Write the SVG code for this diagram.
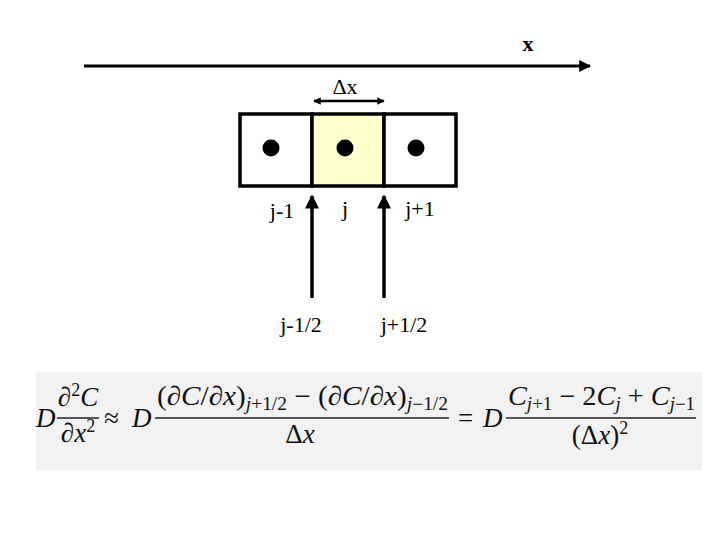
<svg xmlns="http://www.w3.org/2000/svg" width="720" height="540" viewBox="0 0 720 540">
<defs>
<marker id="ah" viewBox="0 0 10 10" refX="9" refY="5" markerWidth="4" markerHeight="4" orient="auto-start-reverse"><path d="M0,0 L10,5 L0,10 z" fill="#000"/></marker>
<marker id="ah2" viewBox="0 0 10 10" refX="9" refY="5" markerWidth="3" markerHeight="3" orient="auto-start-reverse"><path d="M0,0 L10,5 L0,10 z" fill="#000"/></marker>
</defs>
<style>
.lbl{font-family:"Liberation Serif","Times New Roman",serif;font-size:22px;fill:#000}
.eq{font-family:"Liberation Serif","Times New Roman",serif;font-size:27px;fill:#111;font-style:italic}
.up{font-style:normal}
.sub{font-size:18px}
.cell{stroke:#000;stroke-width:3.5}
.dot{fill:#000}
.fl{stroke:#222;stroke-width:1.3}
</style>
<rect width="720" height="540" fill="#fff"/>

<g id="axis">
<line x1="84" y1="66" x2="590" y2="66" stroke="#000" stroke-width="3" marker-end="url(#ah)"/>
<text x="528" y="51" class="lbl" font-weight="bold" text-anchor="middle">x</text>
</g>

<g id="dx">
<text x="345" y="94" class="lbl" text-anchor="middle">Δx</text>
<line x1="314" y1="101" x2="384" y2="101" stroke="#000" stroke-width="2.5" marker-start="url(#ah2)" marker-end="url(#ah2)"/>
</g>

<g id="cell-jm1">
<rect x="240" y="114" width="72" height="72" fill="#fff" class="cell"/>
<circle cx="271" cy="148" r="8.5" class="dot"/>
</g>
<g id="cell-j">
<rect x="312" y="114" width="72" height="72" fill="#ffffcc" class="cell"/>
<circle cx="345" cy="148" r="8.5" class="dot"/>
</g>
<g id="cell-jp1">
<rect x="384" y="114" width="72" height="72" fill="#fff" class="cell"/>
<circle cx="416" cy="148" r="8.5" class="dot"/>
</g>

<g id="labels">
<text x="282" y="218" class="lbl" text-anchor="middle">j-1</text>
<text x="345" y="216" class="lbl" text-anchor="middle">j</text>
<text x="420" y="216" class="lbl" text-anchor="middle">j+1</text>
<text x="301" y="332" class="lbl" text-anchor="middle">j-1/2</text>
<text x="404" y="332" class="lbl" text-anchor="middle">j+1/2</text>
</g>

<g id="connectors">
<line x1="312" y1="298" x2="312" y2="196" stroke="#000" stroke-width="3.5" marker-end="url(#ah)"/>
<line x1="384" y1="298" x2="384" y2="196" stroke="#000" stroke-width="3.5" marker-end="url(#ah)"/>
</g>

<g id="equation">
<rect x="36" y="372" width="666" height="98" fill="#f2f2f2"/>
<text x="36" y="427" class="eq">D</text>
<text x="78" y="406" class="eq" text-anchor="middle"><tspan class="up">∂</tspan><tspan class="up sub" dy="-10">2</tspan><tspan dy="10">C</tspan></text>
<line x1="57" y1="418" x2="99" y2="418" class="fl"/>
<text x="78" y="442" class="eq" text-anchor="middle"><tspan class="up">∂</tspan>x<tspan class="up sub" dy="-10">2</tspan></text>
<text x="104" y="427" class="eq up">≈</text>
<text x="132" y="427" class="eq">D</text>
<text x="157" y="405" class="eq" textLength="291" lengthAdjust="spacingAndGlyphs"><tspan class="up">(∂</tspan>C<tspan class="up">/∂</tspan>x<tspan class="up">)</tspan><tspan class="sub" dy="5">j<tspan class="up">+1/2</tspan></tspan><tspan class="up" dy="-5"> − (∂</tspan>C<tspan class="up">/∂</tspan>x<tspan class="up">)</tspan><tspan class="sub" dy="5">j<tspan class="up">−1/2</tspan></tspan></text>
<line x1="155" y1="418" x2="449" y2="418" class="fl"/>
<text x="300" y="443" class="eq" text-anchor="middle"><tspan class="up">Δ</tspan>x</text>
<text x="458" y="427" class="eq up">=</text>
<text x="483" y="427" class="eq">D</text>
<text x="508" y="405" class="eq" textLength="187" lengthAdjust="spacingAndGlyphs">C<tspan class="sub" dy="5">j<tspan class="up">+1</tspan></tspan><tspan class="up" dy="-5"> − 2</tspan>C<tspan class="sub" dy="5">j</tspan><tspan class="up" dy="-5"> + </tspan>C<tspan class="sub" dy="5">j<tspan class="up">−1</tspan></tspan></text>
<line x1="506" y1="418" x2="696" y2="418" class="fl"/>
<text x="600" y="444" class="eq" text-anchor="middle"><tspan class="up">(Δ</tspan>x<tspan class="up">)</tspan><tspan class="up sub" dy="-10">2</tspan></text>
</g>
</svg>
